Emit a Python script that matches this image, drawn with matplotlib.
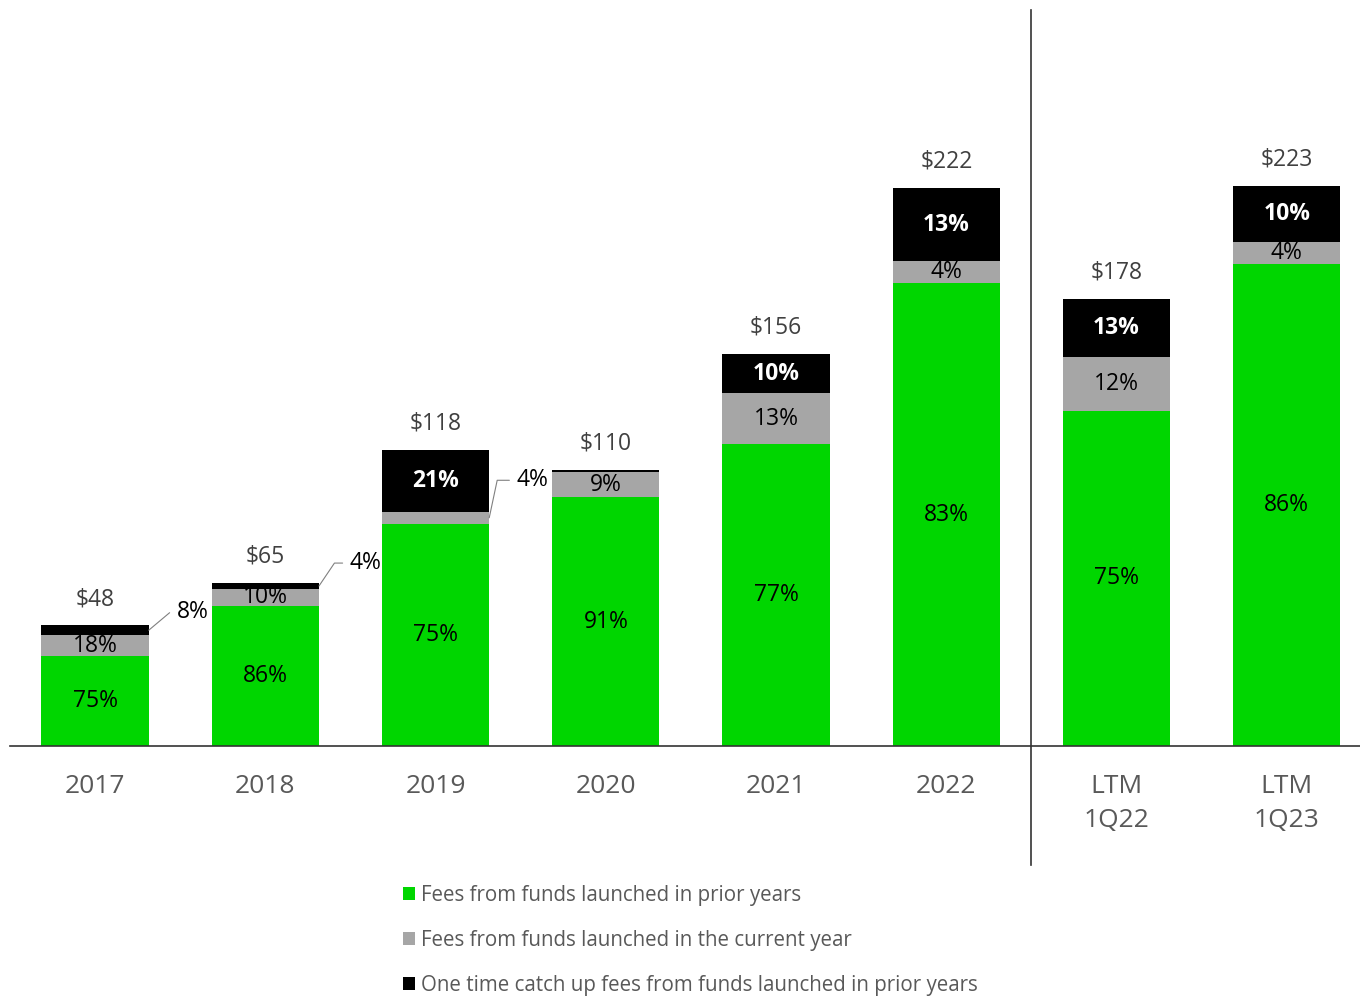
import numpy as np
import matplotlib.pyplot as plt

plt.rcParams['font.family'] = ['Open Sans', 'DejaVu Sans']

categories = ['2017', '2018', '2019', '2020', '2021', '2022', 'LTM\n1Q22', 'LTM\n1Q23']
totals = [48, 65, 118, 110, 156, 222, 178, 223]
prior_pct = [75, 86, 75, 91, 77, 83, 75, 86]
current_pct = [18, 10, 4, 9, 13, 4, 12, 4]
catchup_pct = [8, 4, 21, 1, 10, 13, 13, 10]
legend_labels = ['Fees from funds launched in prior years',
                 'Fees from funds launched in the current year',
                 'One time catch up fees from funds launched in prior years']

green = '#00D600'
gray = '#A6A6A6'
black = '#000000'

# segment heights in $ (share of the total)
pcts = np.array([prior_pct, current_pct, catchup_pct], dtype=float)
tot = np.array(totals, dtype=float)
heights = pcts / pcts.sum(axis=0) * tot

fig = plt.figure(figsize=(13.6, 9.97), dpi=100)
ax = fig.add_axes([10 / 1360, 251 / 997, 1350 / 1360, 746 / 997])

x = np.arange(len(categories))
w = 0.63
colors = [green, gray, black]
bottom = np.zeros(len(x))
bars = []
for i in range(3):
    b = ax.bar(x, heights[i], w, bottom=bottom, color=colors[i], label=legend_labels[i])
    bars.append(b)
    bottom = bottom + heights[i]

# labels kept outside the bar: (segment, bar) -> (dx, dy in points, leader angle)
outside = {(2, 0): (20, 13, 40), (2, 1): (22, 16.5, 56), (1, 2): (19.5, 27, 78)}

for i in range(3):
    base = heights[:i].sum(axis=0)
    for j in range(len(x)):
        val = pcts[i, j]
        if val < 2:
            continue
        ymid = base[j] + heights[i, j] / 2
        txt = f'{int(val)}%'
        if (i, j) in outside:
            dx, dy, ang = outside[(i, j)]
            ax.annotate(txt, xy=(x[j] + w / 2, ymid), xytext=(dx, dy),
                        textcoords='offset points', ha='left', va='center',
                        fontsize=16.5, color='black',
                        arrowprops=dict(arrowstyle='-', color='#808080', lw=0.8,
                                        shrinkA=3, shrinkB=0,
                                        connectionstyle=f'angle,angleA=0,angleB={ang},rad=0'))
        else:
            ax.text(x[j], ymid, txt, ha='center', va='center', fontsize=16.5,
                    color='white' if i == 2 else 'black',
                    fontweight='bold' if i == 2 else 'normal')

for j in range(len(x)):
    ax.annotate(f'${totals[j]}', xy=(x[j], totals[j]), xytext=(0, 19),
                textcoords='offset points', ha='center', va='center',
                fontsize=16.5, color='#404040')

ax.set_xlim(-0.5, 7.43)
ax.set_ylim(0, 297)
ax.set_xticks(x)
ax.set_xticklabels(categories, fontsize=19, color='#595959', linespacing=1.5)
ax.tick_params(axis='x', length=0, pad=20)
ax.set_yticks([])
for s in ['top', 'right', 'left']:
    ax.spines[s].set_visible(False)
ax.spines['bottom'].set_color('#333333')
ax.spines['bottom'].set_linewidth(1.2)

# divider between annual and LTM
ax.plot([5.5, 5.5], [-0.16, 0.987], color='#333333', lw=1.2,
        transform=ax.get_xaxis_transform(), clip_on=False)

fig.legend(handles=bars, labels=legend_labels, loc='upper left',
           bbox_to_anchor=(384 / 1360, 1 - 866 / 997), frameon=False,
           fontsize=14.8, labelcolor='#595959', handlelength=0.6, handleheight=0.6,
           handletextpad=0.3, labelspacing=1.17)

plt.savefig('out.png', dpi=100)
